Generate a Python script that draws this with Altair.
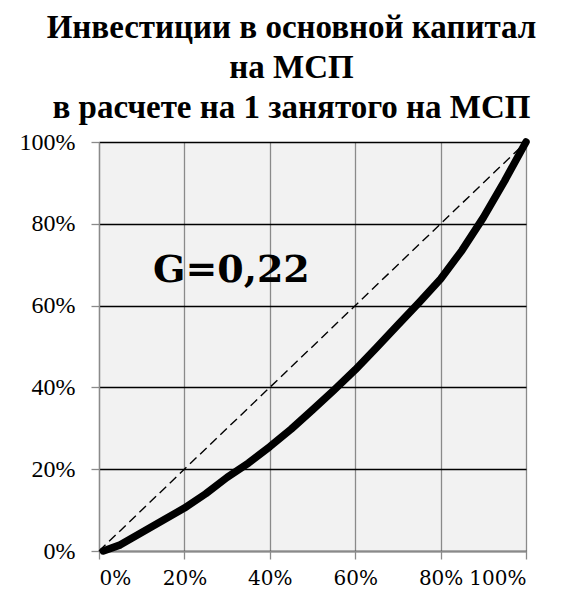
import altair as alt
import pandas as pd

# Lorenz curve (cumulative share of SMEs vs cumulative share of investment)
lorenz_x = [0.01, 0.05, 0.10, 0.15, 0.20, 0.25, 0.30, 0.35, 0.40, 0.45, 0.50,
            0.55, 0.60, 0.65, 0.70, 0.75, 0.80, 0.85, 0.90, 0.95, 1.00]
lorenz_y = [0.000, 0.015, 0.045, 0.075, 0.105, 0.140, 0.180, 0.215, 0.255, 0.298, 0.345,
            0.393, 0.443, 0.497, 0.553, 0.608, 0.665, 0.735, 0.815, 0.905, 1.000]
equal_x = [0.0, 1.0]
equal_y = [0.0, 1.0]
ticks = [0.0, 0.2, 0.4, 0.6, 0.8, 1.0]
gini_label = ["G=0,22"]
gini_x = [0.31]
gini_y = [0.684]

lorenz = pd.DataFrame({"x": lorenz_x, "y": lorenz_y})
equal = pd.DataFrame({"x": equal_x, "y": equal_y})
note = pd.DataFrame({"x": gini_x, "y": gini_y, "t": gini_label})

SERIF = ("Liberation Serif, Tinos, 'Times New Roman', 'Nimbus Roman', 'Nimbus Roman No9 L', "
         "FreeSerif, 'Noto Serif', 'DejaVu Serif', serif")
SERIF2 = "'DejaVu Serif', 'Noto Serif', Liberation Serif, Tinos, FreeSerif, serif"

xscale = alt.Scale(domain=[0, 1], nice=False)
yscale = alt.Scale(domain=[0, 1], nice=False)

xaxis = alt.Axis(values=ticks, format="%", title=None, grid=True, gridColor="#8a8a8a",
                 gridWidth=1.3, domainColor="#8a8a8a", domainWidth=1.3,
                 tickColor="#8a8a8a", tickSize=8, tickWidth=1.3,
                 labelFont=SERIF2, labelFontSize=20, labelColor="black",
                 labelPadding=9)
yaxis = alt.Axis(values=ticks, format="%", title=None, grid=True, gridColor="black",
                 gridWidth=1.6, domainColor="#8a8a8a", domainWidth=1.3,
                 tickColor="#8a8a8a", tickSize=8, tickWidth=1.3,
                 labelFont=SERIF, labelFontSize=24, labelColor="black",
                 labelPadding=16)

base_x = alt.X("x:Q", scale=xscale, axis=xaxis)
base_y = alt.Y("y:Q", scale=yscale, axis=yaxis)

dashed = alt.Chart(equal).mark_line(color="black", strokeWidth=1.4, strokeDash=[9, 5]).encode(
    x=base_x, y=base_y)
curve = alt.Chart(lorenz).mark_line(color="black", strokeWidth=7.5, strokeCap="round",
                                    strokeJoin="round").encode(x=base_x, y=base_y)
text = alt.Chart(note).mark_text(font=SERIF2, fontWeight="bold", fontSize=38,
                                 color="black", align="center", baseline="middle").encode(
    x=alt.X("x:Q", scale=xscale), y=alt.Y("y:Q", scale=yscale), text="t:N")

chart = alt.layer(dashed, curve, text).properties(
    width=427, height=409,
    title=alt.Title(["Инвестиции в основной капитал", "на МСП", "в расчете на 1 занятого на МСП"],
                    font=SERIF, fontSize=33, fontWeight="bold", color="black",
                    lineHeight=40, anchor="middle", dx=-21, offset=5),
    autosize=alt.AutoSizeParams(type="none"),
    padding={"left": 91, "top": 134, "right": 29, "bottom": 44},
    background="white",
).configure_view(fill="#f2f2f2", stroke=None)

chart.save("out.html", embed_options={"renderer": "svg", "actions": False})
